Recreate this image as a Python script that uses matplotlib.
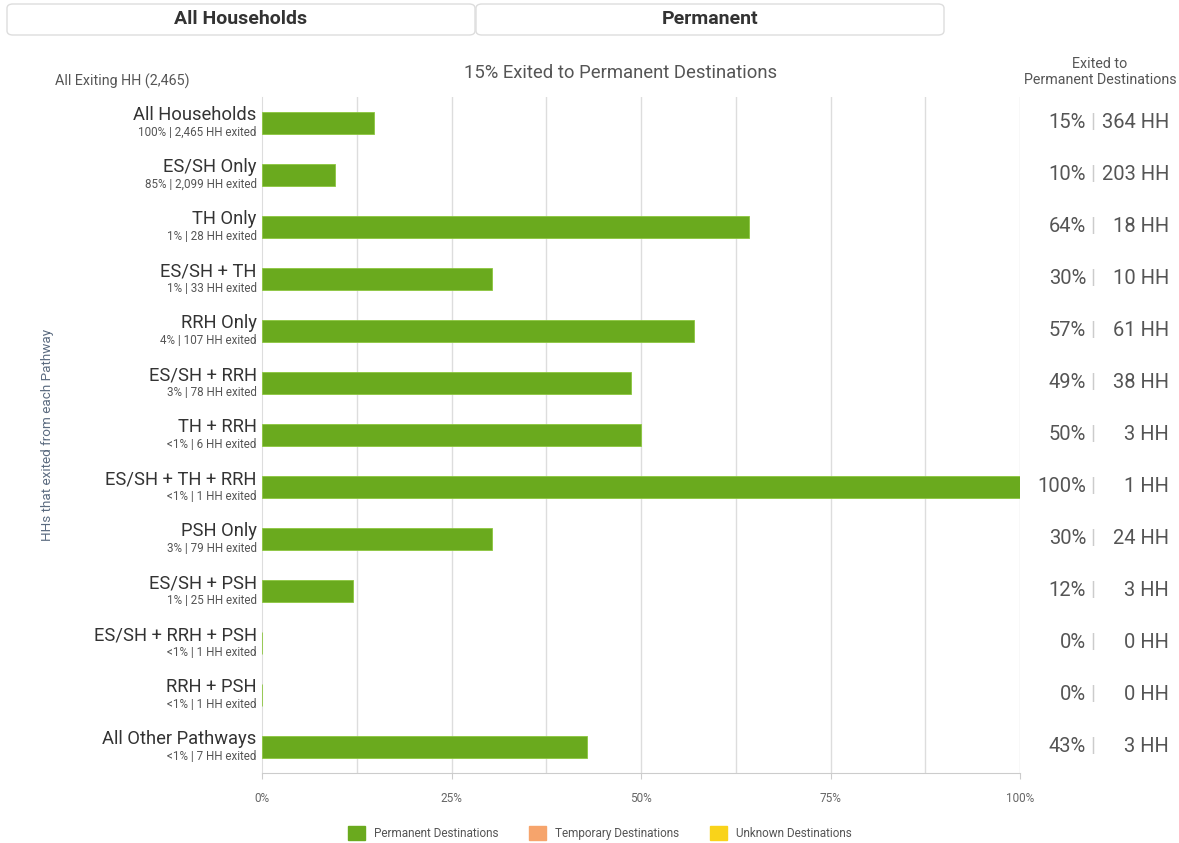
import matplotlib
matplotlib.use("Agg")
import matplotlib.pyplot as plt
from matplotlib.patches import FancyBboxPatch, Patch
import numpy as np

plt.rcParams['font.family'] = ['Roboto', 'DejaVu Sans']

# data
pathways = ["All Households", "ES/SH Only", "TH Only", "ES/SH + TH", "RRH Only",
            "ES/SH + RRH", "TH + RRH", "ES/SH + TH + RRH", "PSH Only", "ES/SH + PSH",
            "ES/SH + RRH + PSH", "RRH + PSH", "All Other Pathways"]
share_labels = ["100%", "85%", "1%", "1%", "4%", "3%", "<1%", "<1%", "3%", "1%",
                "<1%", "<1%", "<1%"]
exited_hh = [2465, 2099, 28, 33, 107, 78, 6, 1, 79, 25, 1, 1, 7]
permanent_hh = [364, 203, 18, 10, 61, 38, 3, 1, 24, 3, 0, 0, 3]
xticks = [0, 25, 50, 75, 100]
legend_names = ["Permanent Destinations", "Temporary Destinations", "Unknown Destinations"]
legend_colors = ["#6aaa1e", "#f6a46c", "#f9d31a"]

pct = [100.0 * p / e for p, e in zip(permanent_hh, exited_hh)]

W, H = 1179, 843
fig = plt.figure(figsize=(W / 100, H / 100), dpi=100)

def fx(px):
    return px / W

def fy(py):
    return 1 - py / H

ax = fig.add_axes([fx(262), fy(773), fx(1020) - fx(262), fy(97) - fy(773)])
y = np.arange(len(pathways))
ax.barh(y, pct, height=0.43, color="#6aaa1e", edgecolor="#8cc63f", linewidth=0.6, zorder=3)
ax.set_xlim(0, 100)
ax.set_ylim(len(pathways) - 0.5, -0.5)
for g in np.arange(12.5, 100.1, 12.5):
    ax.axvline(g, color="#dddddd", lw=1, zorder=1)
ax.set_yticks([])
ax.set_xticks(xticks)
ax.set_xticklabels([f"{t}%" for t in xticks], fontsize=8.5, color="#666666")
ax.tick_params(axis="x", length=4, color="#cccccc", pad=10)
for s in ["top", "right"]:
    ax.spines[s].set_visible(False)
ax.spines["left"].set_color("#dddddd")
ax.spines["bottom"].set_color("#cccccc")

# row labels
for i, name in enumerate(pathways):
    ax.text(-0.7, i + 0.02, name, ha="right", va="bottom", fontsize=13.2, color="#333333",
            clip_on=False)
    ax.text(-0.7, i + 0.06, f"{share_labels[i]} | {exited_hh[i]:,} HH exited", ha="right",
            va="top", fontsize=8.4, color="#555555", clip_on=False)
    # right column
    yy = fy(97 + 52 * i + 26)
    fig.text(fx(1086), yy, f"{pct[i]:.0f}%", ha="right", va="center", fontsize=14.5,
             color="#555555")
    fig.text(fx(1093), yy, "|", ha="center", va="center", fontsize=14.5, color="#cccccc")
    fig.text(fx(1169), yy, f"{permanent_hh[i]} HH", ha="right", va="center", fontsize=14.5,
             color="#555555")

# header buttons
for x0, x1, label in [(7, 475, "All Households"), (476, 944, "Permanent")]:
    box = FancyBboxPatch((fx(x0), fy(35)), fx(x1) - fx(x0), fy(4) - fy(35),
                         boxstyle="round,pad=0,rounding_size=0.005", transform=fig.transFigure,
                         facecolor="white", edgecolor="#dddddd", lw=1)
    fig.patches.append(box)
    fig.text(fx((x0 + x1) / 2), fy(19), label, ha="center", va="center", fontsize=14,
             fontweight="bold", color="#333333")

fig.text(fx(621), fy(73), f"{pct[0]:.0f}% Exited to Permanent Destinations", ha="center",
         va="center", fontsize=13.3, color="#555555")
fig.text(fx(55), fy(81), f"All Exiting HH ({exited_hh[0]:,})", ha="left", va="center",
         fontsize=10.3, color="#555555")
fig.text(fx(1100), fy(72), "Exited to\nPermanent Destinations", ha="center", va="center",
         fontsize=10.3, color="#555555", linespacing=1.25)
fig.text(fx(48), fy(435), "HHs that exited from each Pathway", ha="center", va="center",
         rotation=90, fontsize=9.7, color="#5b6b80")

handles = [Patch(facecolor=c, edgecolor=c) for c in legend_colors]
fig.legend(handles, legend_names, loc="center", bbox_to_anchor=(fx(600), fy(833)), ncol=3,
           frameon=False, fontsize=8.5, handlelength=1.4, handleheight=1.4, columnspacing=2.6,
           labelcolor="#555555")

fig.savefig("out.png", dpi=100)
